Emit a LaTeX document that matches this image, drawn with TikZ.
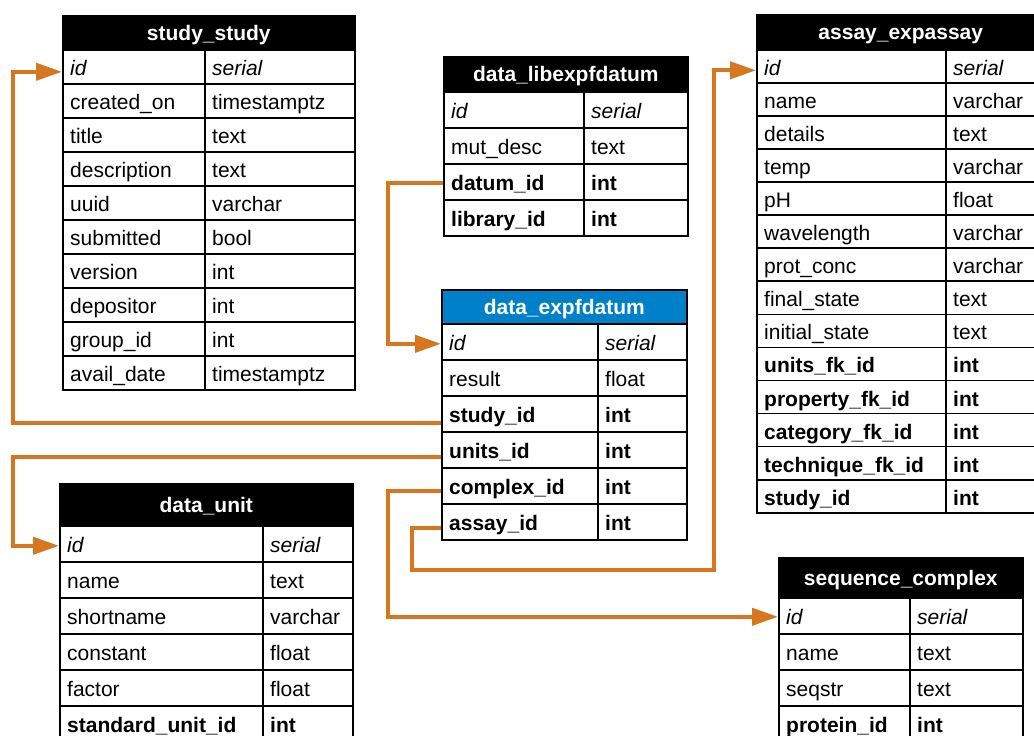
\documentclass[tikz,border=0pt]{standalone}
\usepackage{fontspec}
\setmainfont{Liberation Sans}
\usetikzlibrary{arrows.meta}
\definecolor{fkorange}{RGB}{214,118,30}
\definecolor{hdrblue}{RGB}{0,128,200}
\tikzset{
  cellbox/.style={draw=black, line width=1.6pt, rectangle, anchor=north west, inner sep=0pt},
  hdrbox/.style={draw=black, line width=1.6pt, fill=black, rectangle, anchor=north west, inner sep=0pt,
    text=white, font=\fontsize{21}{25}\selectfont\bfseries, text height=15pt, text depth=0pt},
  celltext/.style={anchor=base west, inner sep=0pt, font=\fontsize{21}{25}\selectfont},
  ital/.style={font=\fontsize{21}{25}\selectfont\itshape},
  bld/.style={font=\fontsize{21}{25}\selectfont\bfseries},
  fk/.style={draw=fkorange, line width=4pt, -{Triangle[length=26pt,width=17pt]}},
}
% #1 text style, #2 name, #3 x, #4 y, #5 w1, #6 w2, #7 h, #8 left text, #9 right text
\newcommand\tblrow[9][]{%
  \node[cellbox, minimum width=#5pt, minimum height=#7pt] (#2) at (#3,#4) {};
  \node[cellbox, minimum width=#6pt, minimum height=#7pt] (#2-t) at (#3+#5,#4) {};
  \node[celltext,#1] (#2-lbl) at ([xshift=8pt,yshift=-9pt]#2.west) {#8};
  \node[celltext,#1] (#2-tlbl) at ([xshift=8pt,yshift=-9pt]#2-t.west) {#9};
}
% #1 extra style, #2 name, #3 x, #4 y, #5 w, #6 h, #7 text
\newcommand\tblhead[7][]{%
  \node[hdrbox, minimum width=#5pt, minimum height=#6pt, #1] (#2) at (#3,#4) {#7};
}
\begin{document}
\begin{tikzpicture}[x=1pt,y=-1pt]
\useasboundingbox (0,0) rectangle (1034,736);
\fill[white] (0,0) rectangle (1034,736);
\clip (0,0) rectangle (1034,736);

% study_study
\tblhead{ss}{62}{15}{292}{34}{study\_study}
\tblrow[ital]{ss-id}{62}{49}{142}{150}{34}{id}{serial}
\tblrow{ss-created}{62}{83}{142}{150}{34}{created\_on}{timestamptz}
\tblrow{ss-title}{62}{117}{142}{150}{34}{title}{text}
\tblrow{ss-desc}{62}{151}{142}{150}{34}{description}{text}
\tblrow{ss-uuid}{62}{185}{142}{150}{34}{uuid}{varchar}
\tblrow{ss-sub}{62}{219}{142}{150}{34}{submitted}{bool}
\tblrow{ss-ver}{62}{253}{142}{150}{34}{version}{int}
\tblrow{ss-dep}{62}{287}{142}{150}{34}{depositor}{int}
\tblrow{ss-group}{62}{321}{142}{150}{34}{group\_id}{int}
\tblrow{ss-avail}{62}{355}{142}{150}{34}{avail\_date}{timestamptz}

% data_libexpfdatum
\tblhead{dl}{443}{56}{244}{35}{data\_libexpfdatum}
\tblrow[ital]{dl-id}{443}{91}{140}{104}{36}{id}{serial}
\tblrow{dl-mut}{443}{127}{140}{104}{36}{mut\_desc}{text}
\tblrow[bld]{dl-datum}{443}{163}{140}{104}{36}{datum\_id}{int}
\tblrow[bld]{dl-lib}{443}{199}{140}{104}{36}{library\_id}{int}

% data_expfdatum
\tblhead[fill=hdrblue]{de}{441}{289}{245}{34}{data\_expfdatum}
\tblrow[ital]{de-id}{441}{323}{156}{89}{36}{id}{serial}
\tblrow{de-result}{441}{359}{156}{89}{36}{result}{float}
\tblrow[bld]{de-study}{441}{395}{156}{89}{36}{study\_id}{int}
\tblrow[bld]{de-units}{441}{431}{156}{89}{36}{units\_id}{int}
\tblrow[bld]{de-complex}{441}{467}{156}{89}{36}{complex\_id}{int}
\tblrow[bld]{de-assay}{441}{503}{156}{89}{36}{assay\_id}{int}

% data_unit
\tblhead{du}{59}{483}{293}{42}{data\_unit}
\tblrow[ital]{du-id}{59}{525}{203}{90}{36}{id}{serial}
\tblrow{du-name}{59}{561}{203}{90}{36}{name}{text}
\tblrow{du-short}{59}{597}{203}{90}{36}{shortname}{varchar}
\tblrow{du-const}{59}{633}{203}{90}{36}{constant}{float}
\tblrow{du-factor}{59}{669}{203}{90}{36}{factor}{float}
\tblrow[bld]{du-std}{59}{705}{203}{90}{36}{standard\_unit\_id}{int}

% assay_expassay
\tblhead{ae}{756}{14}{288}{35}{assay\_expassay}
\tblrow[ital]{ae-id}{756}{49}{189}{99}{33.07}{id}{serial}
\tblrow{ae-name}{756}{82.07}{189}{99}{33.07}{name}{varchar}
\tblrow{ae-details}{756}{115.14}{189}{99}{33.07}{details}{text}
\tblrow{ae-temp}{756}{148.21}{189}{99}{33.07}{temp}{varchar}
\tblrow{ae-ph}{756}{181.28}{189}{99}{33.07}{pH}{float}
\tblrow{ae-wave}{756}{214.35}{189}{99}{33.07}{wavelength}{varchar}
\tblrow{ae-prot}{756}{247.42}{189}{99}{33.07}{prot\_conc}{varchar}
\tblrow{ae-final}{756}{280.49}{189}{99}{33.07}{final\_state}{text}
\tblrow{ae-init}{756}{313.56}{189}{99}{33.07}{initial\_state}{text}
\tblrow[bld]{ae-units}{756}{346.63}{189}{99}{33.07}{units\_fk\_id}{int}
\tblrow[bld]{ae-prop}{756}{379.7}{189}{99}{33.07}{property\_fk\_id}{int}
\tblrow[bld]{ae-cat}{756}{412.77}{189}{99}{33.07}{category\_fk\_id}{int}
\tblrow[bld]{ae-tech}{756}{445.84}{189}{99}{33.07}{technique\_fk\_id}{int}
\tblrow[bld]{ae-study}{756}{478.91}{189}{99}{33.07}{study\_id}{int}

% sequence_complex
\tblhead{sc}{778}{557}{244}{40}{sequence\_complex}
\tblrow[ital]{sc-id}{778}{597}{131}{113}{36}{id}{serial}
\tblrow{sc-name}{778}{633}{131}{113}{36}{name}{text}
\tblrow{sc-seq}{778}{669}{131}{113}{36}{seqstr}{text}
\tblrow[bld]{sc-prot}{778}{705}{131}{113}{36}{protein\_id}{int}

% connectors
\coordinate (s1) at ([yshift=-9pt]de-study.west);
\coordinate (t1) at ([yshift=-5pt]ss-id.west);
\coordinate (x1) at (13,0);
\draw[fk] (s1) -- (s1 -| x1) -- (t1 -| x1) -- (t1);

\coordinate (s2) at ([yshift=-7pt]de-units.west);
\coordinate (t2) at ([yshift=-2pt]du-id.west);
\draw[fk] (s2) -- (s2 -| x1) -- (t2 -| x1) -- (t2);

\coordinate (s3) at ([yshift=-1pt]dl-datum.west);
\coordinate (t3) at ([yshift=-2pt]de-id.west);
\coordinate (x3) at (388,0);
\draw[fk] (s3) -- (s3 -| x3) -- (t3 -| x3) -- (t3);

\coordinate (s4) at ([yshift=-5pt]de-complex.west);
\coordinate (t4) at ([yshift=-1pt]sc-id.west);
\draw[fk] (s4) -- (s4 -| x3) -- (t4 -| x3) -- (t4);

\coordinate (s5) at ([yshift=-6pt]de-assay.west);
\coordinate (t5) at ([yshift=-4pt]ae-id.west);
\coordinate (c5a) at (412,570);
\coordinate (c5b) at (714,570);
\draw[fk] (s5) -- (s5 -| c5a) -- (c5a) -- (c5b) -- (c5b |- t5) -- (t5);
\end{tikzpicture}
\end{document}
